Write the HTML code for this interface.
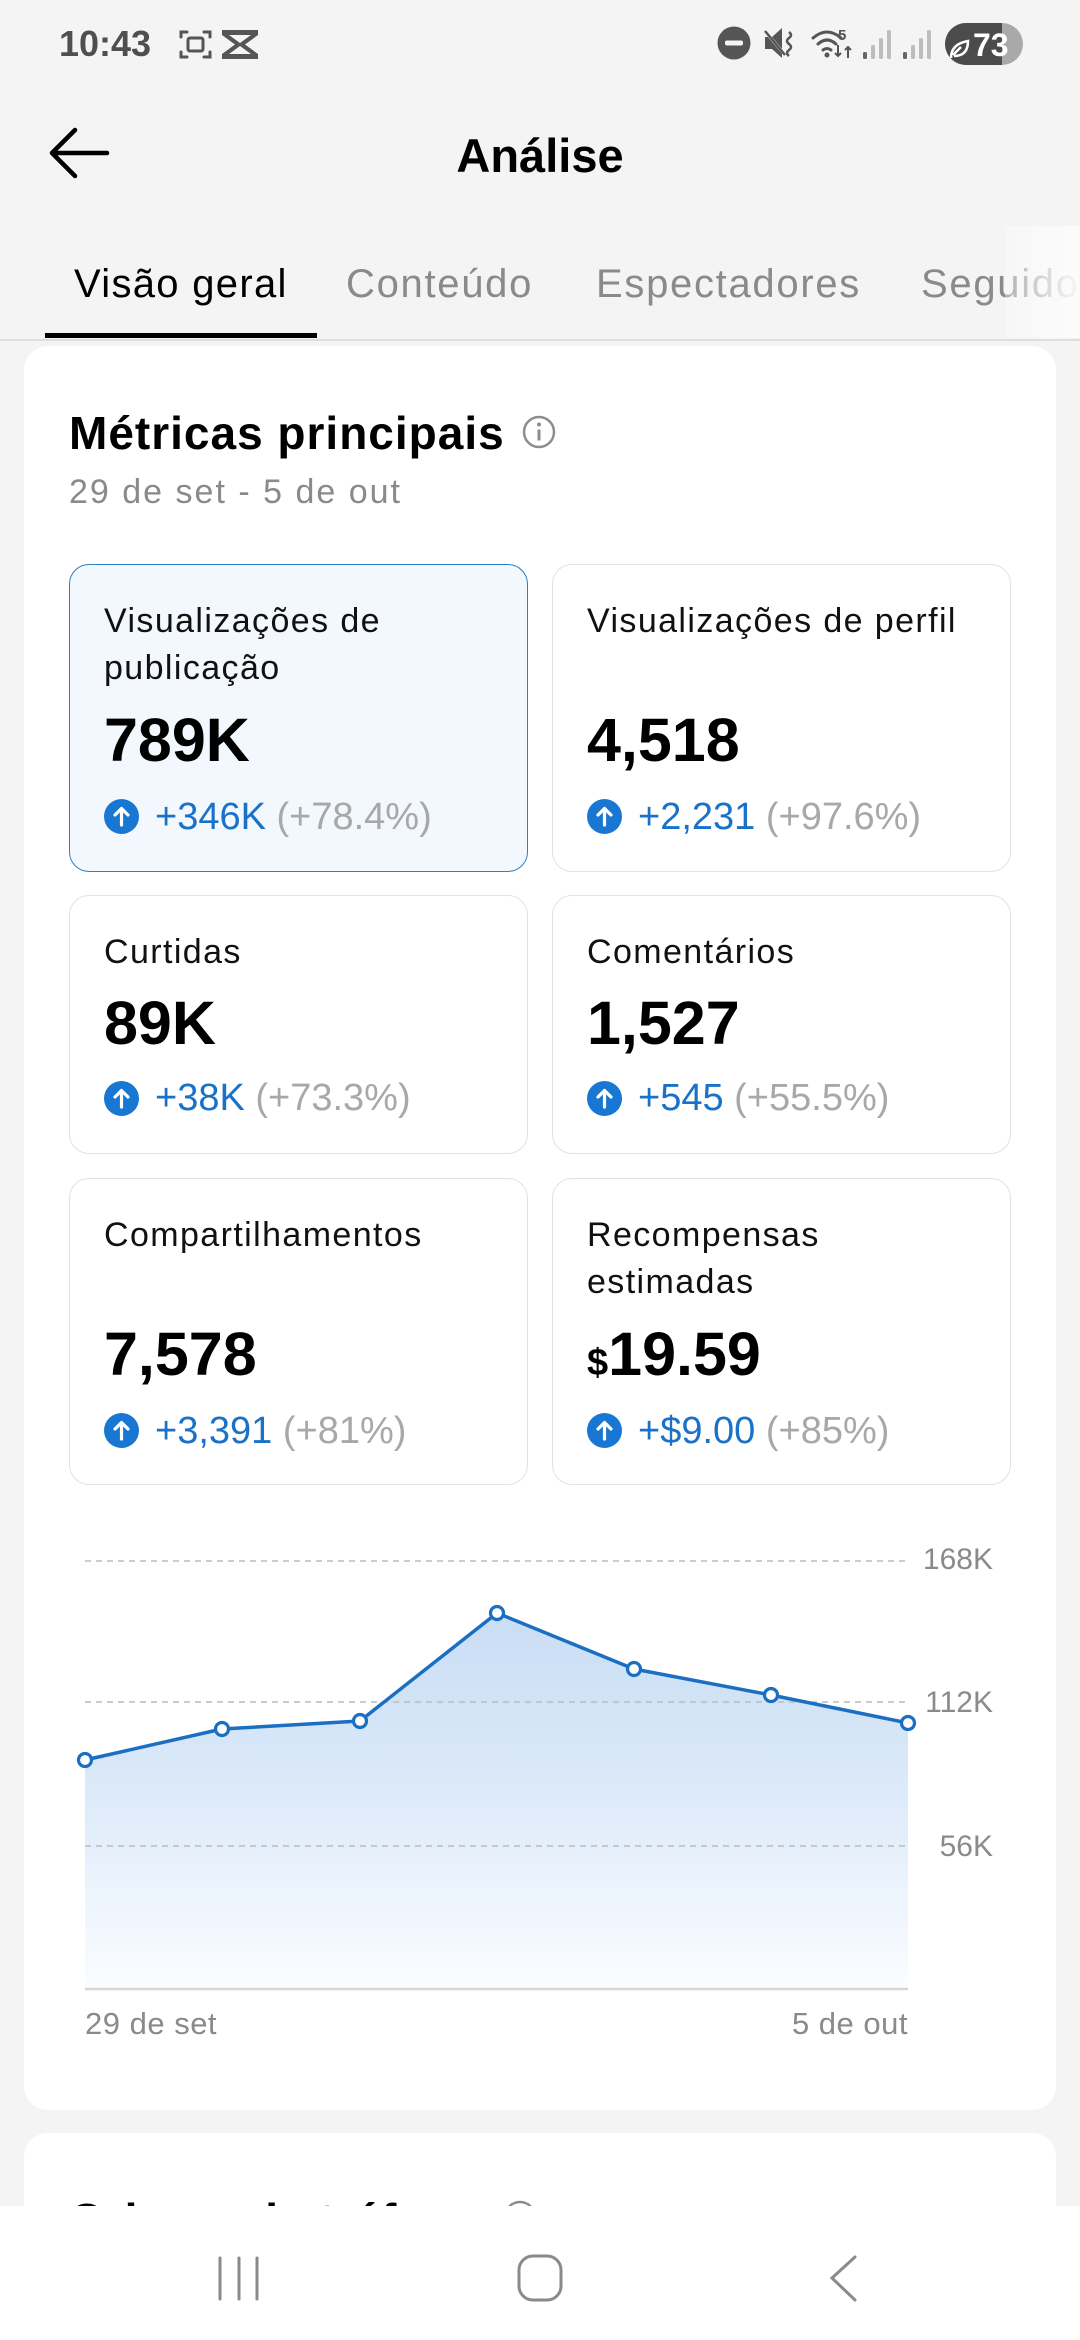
<!DOCTYPE html>
<html><head><meta charset="utf-8">
<style>
*{margin:0;padding:0;box-sizing:border-box}
html,body{width:1080px;height:2340px;overflow:hidden;background:#f4f4f4;font-family:"Liberation Sans",Arial,sans-serif;position:relative}
.abs{position:absolute;white-space:nowrap}
.card{position:absolute;left:24px;width:1032px;background:#fff;border-radius:24px}
.box{position:absolute;width:459px;border:1.5px solid #e2e2e2;border-radius:20px;background:#fff}
.box.sel{background:#f2f8fd;border-color:#2e7fc3}
.lbl{position:absolute;left:34px;top:33px;font-size:34px;line-height:47px;letter-spacing:1.4px;color:#111;white-space:nowrap}
.val{position:absolute;left:34px;font-size:61px;line-height:61px;font-weight:bold;color:#000;white-space:nowrap}
.dl{position:absolute;left:85px;font-size:38px;line-height:40px;color:#1a72c8;white-space:nowrap}
.dl span{color:#a8a8a8}
.ci{position:absolute;left:34px;width:35px;height:35px}
.two .val{top:145px}.two .dl{top:232px}.two .ci{top:234px}
.one .val{top:97px}.one .dl{top:182px}.one .ci{top:185px}
.tabs{position:absolute;left:0;top:220px;width:1080px;height:120px;overflow:hidden}
.tab{position:absolute;top:44px;font-size:40px;line-height:40px;letter-spacing:1.3px;color:#8a8a8a;white-space:nowrap}
.yl{position:absolute;right:87px;font-size:30px;line-height:30px;color:#8a8a8a}
.xl{position:absolute;top:2008px;font-size:31px;line-height:31px;color:#8a8a8a;letter-spacing:0.5px}
</style></head><body>

<!-- status bar -->
<div class="abs" style="left:59px;top:26px;font-size:36px;line-height:36px;font-weight:bold;color:#4f4f4f">10:43</div>
<svg class="abs" style="left:170px;top:20px" width="100" height="50" viewBox="170 20 100 50">
  <g fill="none" stroke="#555" stroke-width="3" stroke-linecap="round">
    <path d="M181 37v-5h6M204 32h6v5M210 52v5h-6M187 57h-6v-5"/>
    <rect x="188" y="38" width="15" height="13" rx="2"/>
  </g>
  <path d="M222 30h36v5l-13 9.5 13 9.5v5h-36v-5l13-9.5-13-9.5z" fill="#555"/>
  <path d="M229 35h22l-11 8z M229 54h22l-11-8z" fill="#f4f4f4"/>
</svg>
<svg class="abs" style="left:700px;top:15px" width="340" height="60" viewBox="700 15 340 60">
  <circle cx="734" cy="43" r="16.5" fill="#555"/>
  <rect x="725" y="40.5" width="18" height="5" rx="2" fill="#f4f4f4"/>
  <path d="M765 37h7l10-9v30l-10-9h-7z" fill="#555"/>
  <path d="M764 30l22 26" stroke="#f4f4f4" stroke-width="3"/>
  <path d="M765 31l20 24" stroke="#555" stroke-width="2.5"/>
  <path d="M789 32q4 3 0 6t0 6 0 6 0 6" stroke="#555" stroke-width="2.5" fill="none"/>
  <g fill="none" stroke="#555" stroke-width="3" stroke-linecap="round">
    <path d="M813 38q14-12 28 0"/><path d="M818 44q9-8 18 0"/><path d="M823 50q4-3 8 0"/>
  </g>
  <circle cx="827" cy="55" r="2.5" fill="#555"/>
  <text x="838" y="40" font-family="Liberation Sans" font-size="15" font-weight="bold" fill="#555">5</text>
  <path d="M838 45v11M835 53l3 3 3-3M848 58v-11M845 50l3-3 3 3" stroke="#555" stroke-width="2" fill="none"/>
  <g fill="#bdbdbd">
    <rect x="863" y="52" width="4" height="7" rx="1.5" fill="#666"/><rect x="871" y="45" width="4" height="14" rx="1.5"/><rect x="879" y="38" width="4" height="21" rx="1.5"/><rect x="887" y="30" width="4" height="29" rx="1.5"/>
    <rect x="903" y="52" width="4" height="7" rx="1.5" fill="#666"/><rect x="911" y="45" width="4" height="14" rx="1.5"/><rect x="919" y="38" width="4" height="21" rx="1.5"/><rect x="927" y="30" width="4" height="29" rx="1.5"/>
  </g>
  <clipPath id="bc"><rect x="940" y="20" width="62" height="50"/></clipPath>
  <rect x="945" y="23" width="78" height="42" rx="21" fill="#a9a9a9"/>
  <rect x="945" y="23" width="78" height="42" rx="21" fill="#4b4b4b" clip-path="url(#bc)"/>
  <path d="M951 58q0-14 17-17q0 15-14 15M953 55l8-8" stroke="#fff" stroke-width="2.5" fill="none"/>
  <text x="973" y="56" font-family="Liberation Sans" font-size="32" font-weight="bold" fill="#fff">73</text>
</svg>

<!-- header -->
<svg class="abs" style="left:40px;top:120px" width="80" height="70" viewBox="40 120 80 70">
  <path d="M107 153H52M75 130L52 153L75 176" stroke="#000" stroke-width="4.5" fill="none" stroke-linecap="round" stroke-linejoin="round"/>
</svg>
<div class="abs" style="left:0;width:1080px;text-align:center;top:132px;font-size:47px;line-height:47px;font-weight:bold;color:#000">Análise</div>

<!-- tabs -->
<div class="tabs">
<div class="tab" style="left:74px;color:#000">Visão geral</div>
<div class="tab" style="left:346px;letter-spacing:1.7px">Conteúdo</div>
<div class="tab" style="left:596px;letter-spacing:1.7px">Espectadores</div>
<div class="tab" style="left:921px;letter-spacing:1.7px">Seguidores</div>
<div class="abs" style="left:1005px;top:6px;width:75px;height:112px;background:linear-gradient(to right,rgba(252,252,252,0.35),rgba(252,252,252,0.97))"></div>
</div>
<div class="abs" style="left:0;top:339px;width:1080px;height:2px;background:#dedede"></div>
<div class="abs" style="left:45px;top:333px;width:272px;height:5px;background:#000"></div>

<!-- main card -->
<div class="card" style="top:346px;height:1764px"></div>
<div class="abs" style="left:69px;top:410px;font-size:46px;line-height:46px;font-weight:bold;letter-spacing:1px;color:#000">Métricas principais</div>
<svg class="abs" style="left:520px;top:413px" width="40" height="40" viewBox="520 413 40 40">
  <circle cx="539" cy="432" r="15" stroke="#8d8d8d" stroke-width="2.5" fill="none"/>
  <circle cx="539" cy="424.5" r="2" fill="#8d8d8d"/>
  <path d="M539 429.5v11" stroke="#8d8d8d" stroke-width="3"/>
</svg>
<div class="abs" style="left:69px;top:475px;font-size:34px;line-height:34px;letter-spacing:2px;color:#8a8a8a">29 de set - 5 de out</div>

<!-- metric boxes -->
<div class="box sel two" style="left:69px;top:564px;height:308px">
  <div class="lbl">Visualizações de<br>publicação</div>
  <div class="val">789K</div>
  <svg class="ci" viewBox="0 0 35 35"><circle cx="17.5" cy="17.5" r="17.5" fill="#1877d2"/><path d="M17.5 26V10M11 16l6.5-6.5L24 16" stroke="#fff" stroke-width="3.2" fill="none" stroke-linecap="round" stroke-linejoin="round"/></svg>
  <div class="dl">+346K <span>(+78.4%)</span></div>
</div>
<div class="box two" style="left:552px;top:564px;height:308px">
  <div class="lbl">Visualizações de perfil</div>
  <div class="val">4,518</div>
  <svg class="ci" viewBox="0 0 35 35"><circle cx="17.5" cy="17.5" r="17.5" fill="#1877d2"/><path d="M17.5 26V10M11 16l6.5-6.5L24 16" stroke="#fff" stroke-width="3.2" fill="none" stroke-linecap="round" stroke-linejoin="round"/></svg>
  <div class="dl">+2,231 <span>(+97.6%)</span></div>
</div>
<div class="box one" style="left:69px;top:895px;height:259px">
  <div class="lbl">Curtidas</div>
  <div class="val">89K</div>
  <svg class="ci" viewBox="0 0 35 35"><circle cx="17.5" cy="17.5" r="17.5" fill="#1877d2"/><path d="M17.5 26V10M11 16l6.5-6.5L24 16" stroke="#fff" stroke-width="3.2" fill="none" stroke-linecap="round" stroke-linejoin="round"/></svg>
  <div class="dl">+38K <span>(+73.3%)</span></div>
</div>
<div class="box one" style="left:552px;top:895px;height:259px">
  <div class="lbl">Comentários</div>
  <div class="val">1,527</div>
  <svg class="ci" viewBox="0 0 35 35"><circle cx="17.5" cy="17.5" r="17.5" fill="#1877d2"/><path d="M17.5 26V10M11 16l6.5-6.5L24 16" stroke="#fff" stroke-width="3.2" fill="none" stroke-linecap="round" stroke-linejoin="round"/></svg>
  <div class="dl">+545 <span>(+55.5%)</span></div>
</div>
<div class="box two" style="left:69px;top:1178px;height:307px">
  <div class="lbl">Compartilhamentos</div>
  <div class="val">7,578</div>
  <svg class="ci" viewBox="0 0 35 35"><circle cx="17.5" cy="17.5" r="17.5" fill="#1877d2"/><path d="M17.5 26V10M11 16l6.5-6.5L24 16" stroke="#fff" stroke-width="3.2" fill="none" stroke-linecap="round" stroke-linejoin="round"/></svg>
  <div class="dl">+3,391 <span>(+81%)</span></div>
</div>
<div class="box two" style="left:552px;top:1178px;height:307px">
  <div class="lbl">Recompensas<br>estimadas</div>
  <div class="val"><span style="font-size:38px">$</span>19.59</div>
  <svg class="ci" viewBox="0 0 35 35"><circle cx="17.5" cy="17.5" r="17.5" fill="#1877d2"/><path d="M17.5 26V10M11 16l6.5-6.5L24 16" stroke="#fff" stroke-width="3.2" fill="none" stroke-linecap="round" stroke-linejoin="round"/></svg>
  <div class="dl">+$9.00 <span>(+85%)</span></div>
</div>

<!-- chart -->
<svg class="abs" style="left:0;top:1500px" width="1080" height="520" viewBox="0 1500 1080 520">
  <defs>
    <linearGradient id="fg" gradientUnits="userSpaceOnUse" x1="0" y1="1613" x2="0" y2="1989">
      <stop offset="0" stop-color="#c9ddf4"/>
      <stop offset="0.45" stop-color="#dbe9f9"/>
      <stop offset="1" stop-color="#fbfdff"/>
    </linearGradient>
  </defs>
  <path d="M85 1760L222 1729L360 1721L497 1613L634 1669L771 1695L908 1723L908 1989L85 1989Z" fill="url(#fg)"/>
  <g stroke="#bcbcbc" stroke-width="1.6" stroke-dasharray="6 5">
    <line x1="85" y1="1561" x2="908" y2="1561"/>
    <line x1="85" y1="1702" x2="908" y2="1702"/>
    <line x1="85" y1="1846" x2="908" y2="1846"/>
  </g>
  <line x1="85" y1="1989" x2="908" y2="1989" stroke="#d6d6d6" stroke-width="2.5"/>
  <polyline points="85,1760 222,1729 360,1721 497,1613 634,1669 771,1695 908,1723" fill="none" stroke="#1a6fc2" stroke-width="3.5" stroke-linejoin="round"/>
  <g fill="#fff" stroke="#1a6fc2" stroke-width="3.2">
    <circle cx="85" cy="1760" r="6.5"/><circle cx="222" cy="1729" r="6.5"/><circle cx="360" cy="1721" r="6.5"/>
    <circle cx="497" cy="1613" r="6.5"/><circle cx="634" cy="1669" r="6.5"/><circle cx="771" cy="1695" r="6.5"/>
    <circle cx="908" cy="1723" r="6.5"/>
  </g>
</svg>
<div class="yl" style="top:1545px">168K</div>
<div class="yl" style="top:1688px">112K</div>
<div class="yl" style="top:1832px">56K</div>
<div class="xl" style="left:85px">29 de set</div>
<div class="xl" style="right:172px">5 de out</div>

<!-- second card -->
<div class="card" style="top:2133px;height:207px;border-radius:24px 24px 0 0"></div>
<div class="abs" style="left:69px;top:2197px;font-size:46px;line-height:46px;font-weight:bold;letter-spacing:1px;color:#000">Origem de tráfego</div>
<svg class="abs" style="left:500px;top:2195px" width="40" height="40" viewBox="500 2195 40 40">
  <circle cx="520" cy="2217" r="15" stroke="#8d8d8d" stroke-width="2.5" fill="none"/>
</svg>

<!-- nav bar -->
<div class="abs" style="left:0;top:2206px;width:1080px;height:134px;background:#fff"></div>
<svg class="abs" style="left:0;top:2206px" width="1080" height="134" viewBox="0 2206 1080 134">
  <g stroke="#8a8a8a" stroke-width="3" fill="none" stroke-linecap="round">
    <path d="M220 2258v41M239 2258v41M257 2258v41"/>
    <rect x="519" y="2256" width="42" height="44" rx="14"/>
    <path d="M855 2257L832 2278L855 2300"/>
  </g>
</svg>
</body></html>
